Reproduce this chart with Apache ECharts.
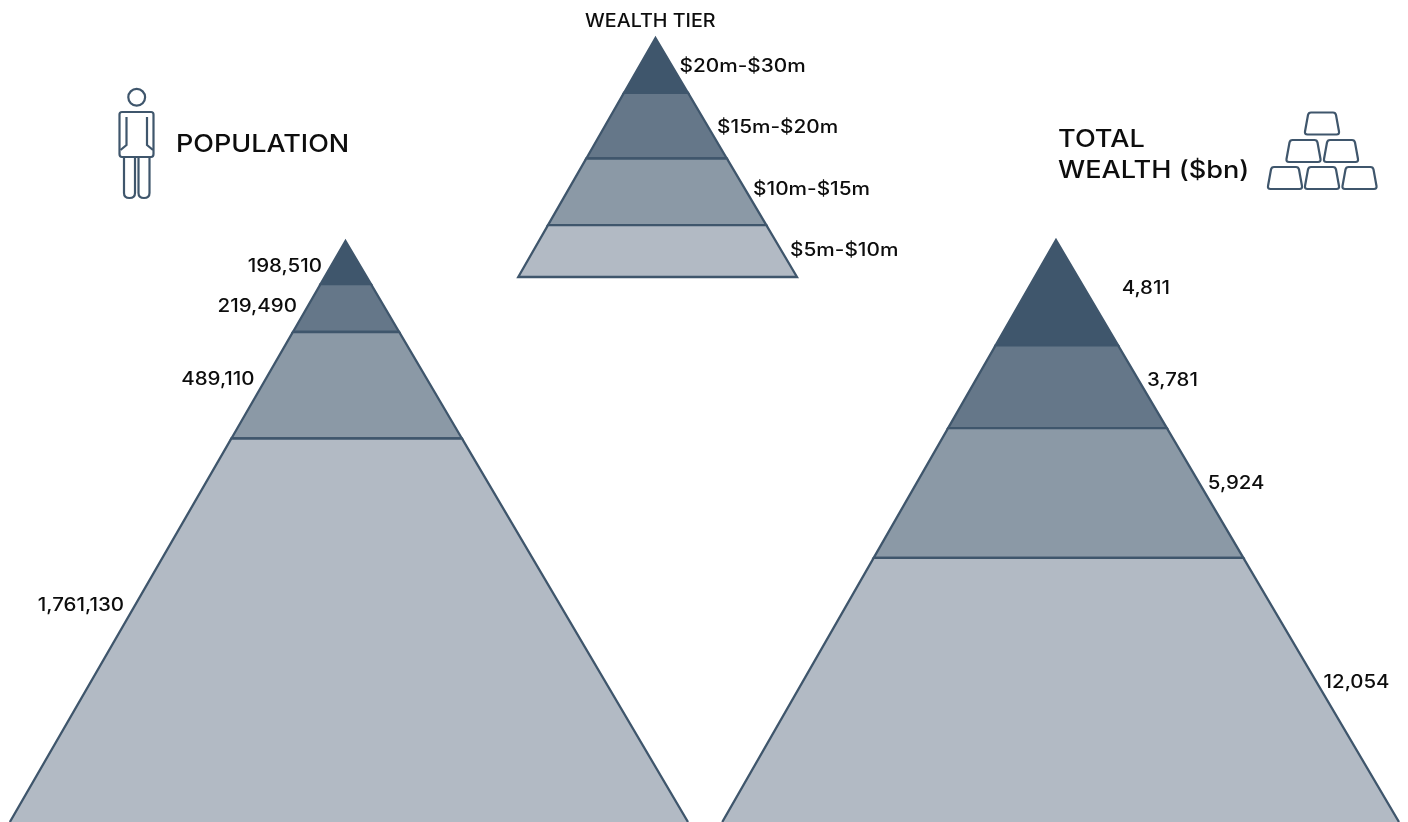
<!DOCTYPE html>
<html>
<head>
<meta charset="utf-8">
<style>html,body{margin:0;padding:0;background:#fff}#c{width:1408px;height:822px}</style>
<script src="https://cdn.jsdelivr.net/npm/echarts@6/dist/echarts.min.js"></script>
</head>
<body>
<div id="c"></div>
<script>
const tierNames = ['$20m-$30m', '$15m-$20m', '$10m-$15m', '$5m-$10m'];
const tierBands = [55, 66, 67, 52];
const population = [198510, 219490, 489110, 1761130];
const wealth = [4811, 3781, 5924, 12054];

const FONT = 'Inter';
const INK = '#3f566c';
const FILLS = ['#3f566c', '#657789', '#8b99a6', '#b2bac4'];
const TEXT = '#0d0d0d';

const pyramids = [
  { name: 'Population', values: population, labels: population.map(v => v.toLocaleString('en-US')),
    grid: { left: 3, top: 241, width: 685, height: 581 }, side: 'left', lean: 0.98, openBase: true,
    gap: [9, 11, 11, 11], dy: [3.5, -2, -6, -25], stretch: 1.14 },
  { name: 'Wealth tier', values: tierBands, labels: tierNames,
    grid: { left: 514, top: 38, width: 283, height: 239 }, side: 'right', lean: 0.97, openBase: false,
    gap: [7, 8.5, 8, 9], dy: [1.5, 2, -2.5, -1], stretch: 1.155 },
  { name: 'Total wealth', values: wealth, labels: wealth.map(v => v.toLocaleString('en-US')),
    grid: { left: 713, top: 240, width: 686, height: 582 }, side: 'right', lean: 0.973, openBase: true,
    gap: [37, 8, 8, 6.5], dy: [-4, -6, -9, -7], stretch: 1.135 }
];

function makeRenderer(p) {
  return function (params, api) {
    const s = api.value(0), e = api.value(1), i = params.dataIndex;
    const tl = api.coord([-s * p.lean, s]), tr = api.coord([s, s]);
    const bl = api.coord([-e * p.lean, e]), br = api.coord([e, e]);
    const ly = (tl[1] + bl[1]) / 2 + p.dy[i];
    const t = (ly - tl[1]) / (bl[1] - tl[1]);
    const left = p.side === 'left';
    const lx = left ? tl[0] + (bl[0] - tl[0]) * t - p.gap[i] : tr[0] + (br[0] - tr[0]) * t + p.gap[i];
    const open = p.openBase && i === p.values.length - 1;
    const outline = open
      ? { type: 'polyline', shape: { points: [bl, tl, tr, br] },
          style: { fill: 'none', stroke: INK, lineWidth: 2.3 } }
      : { type: 'polygon', shape: { points: [tl, tr, br, bl] },
          style: { fill: 'none', stroke: INK, lineWidth: 2.3, lineJoin: 'miter' } };
    return {
      type: 'group',
      children: [
        { type: 'polygon', shape: { points: [tl, tr, br, bl] }, style: { fill: FILLS[i] } },
        outline,
        { type: 'text', x: lx, y: ly, scaleX: p.stretch,
          style: { text: p.labels[i], fill: TEXT, font: '500 18px ' + FONT,
                   textAlign: left ? 'right' : 'left', textVerticalAlign: 'middle' } }
      ]
    };
  };
}

const grids = [], xAxes = [], yAxes = [], series = [];
pyramids.forEach((p, idx) => {
  const total = p.values.reduce((a, b) => a + b, 0);
  let cum = 0;
  const rows = p.values.map(v => { const r = [cum, cum + v]; cum += v; return r; });
  grids.push(p.grid);
  xAxes.push({ type: 'value', gridIndex: idx, min: -total, max: total, show: false });
  yAxes.push({ type: 'value', gridIndex: idx, min: 0, max: total, inverse: true, show: false });
  series.push({ type: 'custom', name: p.name, xAxisIndex: idx, yAxisIndex: idx, clip: false,
    encode: { x: [0, 1], y: [0, 1] }, renderItem: makeRenderer(p), data: rows, silent: true });
});

function heading(text, x, y, size, stretch) {
  return { type: 'text', x, y, scaleX: stretch, silent: true,
    style: { text, fill: TEXT, font: '500 ' + size + 'px ' + FONT, textAlign: 'left', textVerticalAlign: 'middle' } };
}
function barPath(cx, top) {
  const b = top + 22, r = 3;
  return 'M' + (cx - 11) + ' ' + top + 'L' + (cx + 11) + ' ' + top +
    'Q' + (cx + 13.5) + ' ' + top + ' ' + (cx + 14) + ' ' + (top + 2.5) +
    'L' + (cx + 17) + ' ' + (b - r) + 'Q' + (cx + 17.5) + ' ' + b + ' ' + (cx + 14.5) + ' ' + b +
    'L' + (cx - 14.5) + ' ' + b + 'Q' + (cx - 17.5) + ' ' + b + ' ' + (cx - 17) + ' ' + (b - r) +
    'L' + (cx - 14) + ' ' + (top + 2.5) + 'Q' + (cx - 13.5) + ' ' + top + ' ' + (cx - 11) + ' ' + top + 'Z';
}
const barSpots = [[1322, 112.5], [1303.5, 140], [1341, 140], [1285, 167], [1322, 167], [1359.5, 167]];
const personPaths = [
  'M122 112L151 112Q153.5 112 153.5 114.5L153.5 154Q153.5 157 151 157L122 157Q119.5 157 119.5 154L119.5 114.5Q119.5 112 122 112Z',
  'M126.5 117L126.5 145L120.5 150',
  'M147 117L147 145L153 150',
  'M124 157L124 193Q124 198 129.5 198Q135 198 135 193L135 157',
  'M138.5 157L138.5 193Q138.5 198 144 198Q149.5 198 149.5 193L149.5 157'
];
const iconPathData = [...personPaths, ...barSpots.map(s => barPath(s[0], s[1]))];
series.push({
  type: 'custom', name: 'Icons', coordinateSystem: 'none', silent: true, data: [0],
  renderItem: function () {
    return { type: 'group', children: iconPathData.map(d => ({
      type: 'path', shape: { pathData: d }, style: { fill: 'none', stroke: INK, lineWidth: 2.2 } })) };
  }
});

const graphics = [
  { type: 'circle', silent: true, shape: { cx: 136.7, cy: 97.3, r: 8.4 }, style: { fill: 'none', stroke: INK, lineWidth: 2.2 } },
  heading('POPULATION', 176, 144.5, 24, 1.123),
  heading('TOTAL', 1058, 139.5, 24, 1.13),
  heading('WEALTH ($bn)', 1058, 171, 24, 1.13),
  heading('WEALTH TIER', 585, 21.5, 18, 1.095)
];

const chart = echarts.init(document.getElementById('c'), null, { renderer: 'canvas' });
chart.setOption({
  animation: false,
  backgroundColor: '#fff',
  grid: grids, xAxis: xAxes, yAxis: yAxes, series,
  graphic: { elements: graphics }
});
</script>
</body>
</html>
